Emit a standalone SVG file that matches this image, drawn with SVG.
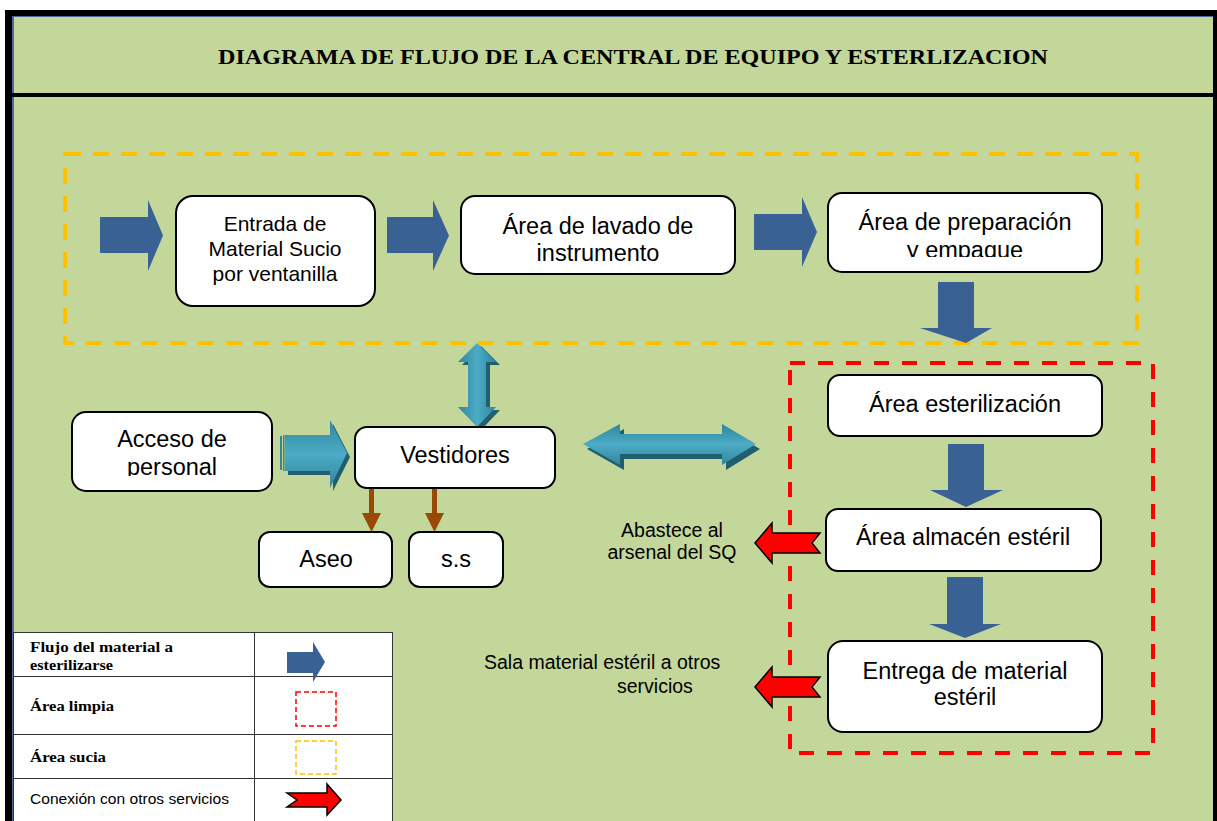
<svg xmlns="http://www.w3.org/2000/svg" width="1217" height="821" viewBox="0 0 1217 821">
<style>
.node{fill:#fff;stroke:#000;stroke-width:2}
.t{font-family:"Liberation Sans",Arial,sans-serif;font-size:23.5px;fill:#000;text-anchor:middle}
.lbl{font-family:"Liberation Sans",Arial,sans-serif;font-size:19.5px;fill:#000}
.blue{fill:#3A6194}
.red{fill:#FF0000;stroke:#000;stroke-width:1.5}
.brown{fill:#984807}
.shadow{fill:#215E6E}
.lg{font-family:"Liberation Serif","Times New Roman",serif;font-weight:bold;font-size:15px;fill:#000}
.grid{stroke:#333;stroke-width:1;fill:none}
</style>
<defs>
<linearGradient id="gv" x1="0" y1="0" x2="1" y2="0">
<stop offset="0" stop-color="#31859C"/><stop offset="0.5" stop-color="#4BACC6"/><stop offset="1" stop-color="#31859C"/>
</linearGradient>
<linearGradient id="gh" x1="0" y1="0" x2="0" y2="1">
<stop offset="0" stop-color="#31859C"/><stop offset="0.5" stop-color="#4BACC6"/><stop offset="1" stop-color="#31859C"/>
</linearGradient>
<clipPath id="cPrep"><rect x="820" y="190" width="290" height="67"/></clipPath>
<clipPath id="cAcc"><rect x="70" y="408" width="205" height="68"/></clipPath>
</defs>
<rect width="1217" height="821" fill="#fff"/>
<g id="frame">
<rect x="5" y="10" width="1212" height="811" fill="#000"/>
<rect x="12" y="16" width="1201" height="77" fill="#4F6A96"/>
<rect x="14" y="17" width="1199" height="76" fill="#C4D79B"/>
<rect x="12" y="97" width="1201" height="724" fill="#4F6A96"/>
<rect x="14" y="97" width="1199" height="724" fill="#C4D79B"/>
<text x="633" y="64" font-family="Liberation Serif,'Times New Roman',serif" font-weight="bold" font-size="21" text-anchor="middle" textLength="830" lengthAdjust="spacingAndGlyphs">DIAGRAMA DE FLUJO DE LA CENTRAL DE EQUIPO Y ESTERLIZACION</text>
</g>
<g id="areas">
<rect x="65" y="154" width="1072" height="189" fill="none" stroke="#FFC000" stroke-width="4" stroke-dasharray="16 12"/>
<rect x="790" y="363" width="363" height="390" fill="none" stroke="#FF0000" stroke-width="4" stroke-dasharray="15 13"/>
</g>
<g id="connectors">
<path class="blue" d="M100,217 L148,217 L148,200 L163,235.5 L148,271 L148,253 L100,253 Z"/>
<path class="blue" d="M387,217 L433,217 L433,200 L449,235.5 L433,271 L433,253 L387,253 Z"/>
<path class="blue" d="M754,214 L802,214 L802,197 L817,232 L802,267 L802,250 L754,250 Z"/>
<path class="blue" d="M938,282 L974,282 L974,328 L992,328 L966,343 L920,328 L938,328 Z"/>
<path class="blue" d="M948,444 L984,444 L984,490 L1003,490 L966,507 L930,490 L948,490 Z"/>
<path class="blue" d="M947,577 L983,577 L983,624 L1001,624 L965,638 L929,624 L947,624 Z"/>
<path class="shadow" d="M481,346 L500,365 L490,365 L490,410 L500,410 L481,430 L462,410 L472,410 L472,365 L462,365 Z"/>
<path fill="url(#gv)" d="M477,343 L496,362 L486,362 L486,407 L496,407 L477,427 L458,407 L468,407 L468,362 L458,362 Z"/>
<path class="shadow" d="M587,449 L624,429 L624,439 L726,439 L726,429 L760,449 L726,470 L726,459 L624,459 L624,470 Z"/>
<path fill="url(#gh)" d="M583,444 L620,424 L620,434 L722,434 L722,424 L756,444 L722,465 L722,454 L620,454 L620,465 Z"/>
<path class="shadow" d="M288,439 L333,439 L333,424 L350,457 L333,491 L333,475 L288,475 Z"/>
<path fill="url(#gh)" d="M285,435 L330,435 L330,420 L347,453 L330,488 L330,471 L285,471 Z"/>
<rect x="280" y="436" width="2" height="34" fill="#31859C"/>
<rect x="283" y="435" width="1.5" height="36" fill="#31859C"/>
<rect x="369" y="488" width="5" height="26" class="brown"/>
<path class="brown" d="M362,513 L381,513 L371.5,532 Z"/>
<rect x="432" y="488" width="5" height="26" class="brown"/>
<path class="brown" d="M425,513 L444,513 L434.5,532 Z"/>
<path class="red" d="M755,543 L772,523 L772,533 L820,533 L812,543 L820,553 L772,553 L772,563 Z"/>
<path class="red" d="M755,687 L772,667 L772,677 L820,677 L812,687 L820,697 L772,697 L772,707 Z"/>
</g>
<g id="n-entrada">
<rect class="node" x="176" y="196" width="199" height="110" rx="17"/>
<text class="t" font-size="21" x="275" y="231" style="font-size:21px">Entrada de</text>
<text class="t" x="275" y="256" style="font-size:21px">Material Sucio</text>
<text class="t" x="275" y="281" style="font-size:21px">por ventanilla</text>
</g>
<g id="n-lavado">
<rect class="node" x="461" y="196" width="274" height="78" rx="14"/>
<text class="t" x="598" y="234">Área de lavado de</text>
<text class="t" x="598" y="261">instrumento</text>
</g>
<g id="n-preparacion">
<rect class="node" x="828" y="193" width="274" height="79" rx="14"/>
<g clip-path="url(#cPrep)">
<text class="t" x="965" y="230">Área de preparación</text>
<text class="t" x="965" y="258">y empaque</text>
</g>
</g>
<g id="n-esterilizacion">
<rect class="node" x="828" y="375" width="274" height="61" rx="12"/>
<text class="t" x="965" y="412">Área esterilización</text>
</g>
<g id="n-almacen">
<rect class="node" x="826" y="509" width="275" height="62" rx="12"/>
<text class="t" x="963" y="545">Área almacén estéril</text>
</g>
<g id="n-entrega">
<rect class="node" x="828" y="641" width="274" height="91" rx="15"/>
<text class="t" x="965" y="679">Entrega de material</text>
<text class="t" x="965" y="705">estéril</text>
</g>
<g id="n-acceso">
<rect class="node" x="72" y="412" width="200" height="79" rx="14"/>
<g clip-path="url(#cAcc)">
<text class="t" x="172" y="447">Acceso de</text>
<text class="t" x="172" y="475">personal</text>
</g>
</g>
<g id="n-vestidores">
<rect class="node" x="355" y="427" width="200" height="61" rx="12"/>
<text class="t" x="455" y="463">Vestidores</text>
</g>
<g id="n-aseo">
<rect class="node" x="259" y="532" width="133" height="55" rx="11"/>
<text class="t" x="326" y="567">Aseo</text>
</g>
<g id="n-ss">
<rect class="node" x="409" y="532" width="94" height="55" rx="11"/>
<text class="t" x="456" y="567">s.s</text>
</g>
<g id="labels">
<text class="lbl" x="672" y="537" text-anchor="middle">Abastece al</text>
<text class="lbl" x="672" y="559" text-anchor="middle">arsenal del SQ</text>
<text class="lbl" x="484" y="669">Sala material estéril a otros</text>
<text class="lbl" x="617" y="693">servicios</text>
</g>
<g id="legend">
<rect x="13" y="632" width="380" height="195" fill="#fff"/>
<path class="grid" d="M13,632.5 H393 M13,676.5 H393 M13,734.5 H393 M13,778.5 H393 M254.5,632 V821 M392.5,632 V821 M13.5,632 V821"/>
<text class="lg" x="30" y="652" textLength="143" lengthAdjust="spacingAndGlyphs">Flujo del material  a</text>
<text class="lg" x="30" y="670" textLength="83" lengthAdjust="spacingAndGlyphs">esterilizarse</text>
<text class="lg" x="30" y="711" textLength="84" lengthAdjust="spacingAndGlyphs">Área limpia</text>
<text class="lg" x="30" y="762" textLength="76" lengthAdjust="spacingAndGlyphs">Área sucia</text>
<text x="30" y="804" font-family="'Liberation Sans',Arial,sans-serif" font-size="14" textLength="199" lengthAdjust="spacingAndGlyphs">Conexión con otros servicios</text>
<path class="blue" d="M287,652 L313,652 L313,642 L325,662 L313,682 L313,673 L287,673 Z"/>
<rect x="296" y="692" width="40" height="34" fill="none" stroke="#FF0000" stroke-width="1.5" stroke-dasharray="5 3"/>
<rect x="296" y="741" width="40" height="33" fill="none" stroke="#FFC000" stroke-width="1.5" stroke-dasharray="5 3"/>
<path class="red" d="M287,793 L327,793 L327,784 L341,800 L327,815 L327,807 L287,807 L297,800 Z"/>
</g>
</svg>
